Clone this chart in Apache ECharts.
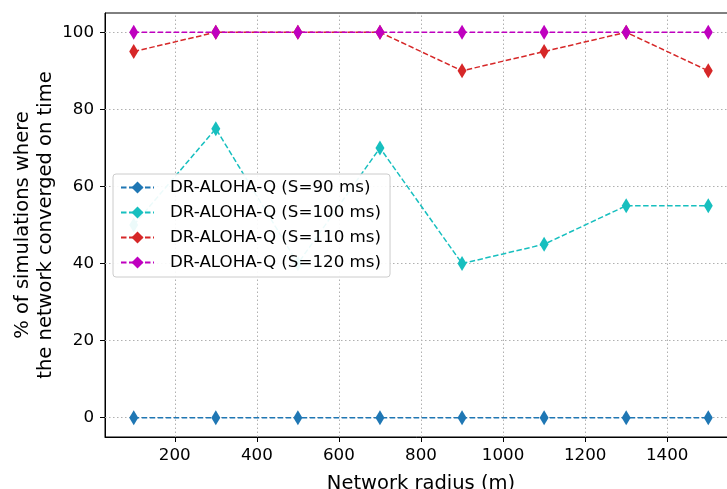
<!DOCTYPE html>
<html>
<head>
<meta charset="utf-8">
<script src="https://cdn.jsdelivr.net/npm/echarts@6/dist/echarts.min.js"></script>
<style>
  html, body { margin: 0; padding: 0; background: #fff; }
  #chart { width: 727px; height: 489px; }
</style>
</head>
<body>
<div id="chart"></div>
<script>
// Network radius (m) at which each configuration was simulated
const radii = [100, 300, 500, 700, 900, 1100, 1300, 1500];

// % of runs that converged on time, per slot length S
const s90 = [0, 0, 0, 0, 0, 0, 0, 0];
const s100 = [50, 75, 40, 70, 40, 45, 55, 55];
const s110 = [95, 100, 100, 100, 90, 95, 100, 90];
const s120 = [100, 100, 100, 100, 100, 100, 100, 100];

const xTicks = [200, 400, 600, 800, 1000, 1200, 1400];
const yTicks = [0, 20, 40, 60, 80, 100];

const seriesDefs = [
  { name: 'DR-ALOHA-Q (S=90 ms)', values: s90, color: '#1f77b4' },
  { name: 'DR-ALOHA-Q (S=100 ms)', values: s100, color: '#17bfbf' },
  { name: 'DR-ALOHA-Q (S=110 ms)', values: s110, color: '#d62728' },
  { name: 'DR-ALOHA-Q (S=120 ms)', values: s120, color: '#bf00bf' }
];

const FONT = 'DejaVu Sans';
const TICK_SIZE = 16.7;
const TITLE_SIZE = 19.5;

// dotted grid at the tick positions
const gridMarks = {
  silent: true, symbol: 'none', label: { show: false }, z: 1,
  lineStyle: { color: '#b0b0b0', type: [1.5, 2.5], width: 1 },
  emphasis: { disabled: true },
  data: xTicks.map(v => ({ xAxis: v })).concat(yTicks.map(v => ({ yAxis: v })))
};

const chart = echarts.init(document.getElementById('chart'), null, { renderer: 'canvas' });

chart.setOption({
  animation: false,
  backgroundColor: '#ffffff',
  textStyle: { fontFamily: FONT },
  grid: {
    left: 105, top: 13, width: 632, height: 424,
    outerBoundsMode: 'none',
    show: true, borderColor: '#000', borderWidth: 1, backgroundColor: '#ffffff'
  },
  legend: {
    orient: 'vertical',
    left: 113, top: 174,
    z: 20,
    backgroundColor: 'rgba(255,255,255,0.92)',
    borderColor: '#cccccc', borderWidth: 1, borderRadius: 3,
    padding: [5, 9, 6, 7],
    itemWidth: 33, itemHeight: 15, itemGap: 8,
    textStyle: { fontFamily: FONT, fontSize: TICK_SIZE, lineHeight: 17, color: '#000', padding: [0, 0, 0, 11] },
    data: seriesDefs.map(d => d.name)
  },
  xAxis: {
    type: 'value', min: 30, max: 1570,
    name: 'Network radius (m)', nameLocation: 'middle', nameGap: 37,
    nameMoveOverlap: false,
    nameTextStyle: { fontFamily: FONT, fontSize: TITLE_SIZE, color: '#000' },
    axisLine: { onZero: false, lineStyle: { color: '#000' } },
    axisTick: { show: true, length: 5, customValues: xTicks, lineStyle: { color: '#000' } },
    axisLabel: {
      customValues: xTicks, fontFamily: FONT, fontSize: TICK_SIZE, color: '#000', margin: 10,
      formatter: v => String(v)
    },
    splitLine: { show: false },
    splitArea: { show: false }
  },
  yAxis: {
    type: 'value', min: -5, max: 105,
    name: '% of simulations where\nthe network converged on time',
    nameLocation: 'middle', nameGap: 48,
    nameMoveOverlap: false,
    nameTextStyle: { fontFamily: FONT, fontSize: TITLE_SIZE, color: '#000', lineHeight: 23 },
    axisLine: { onZero: false, lineStyle: { color: '#000' } },
    axisTick: { show: true, length: 5, customValues: yTicks, lineStyle: { color: '#000' } },
    axisLabel: {
      customValues: yTicks, fontFamily: FONT, fontSize: TICK_SIZE, color: '#000', margin: 11,
      formatter: v => String(v)
    },
    splitLine: { show: false },
    splitArea: { show: false }
  },
  series: seriesDefs.map((d, i) => ({
    type: 'line',
    name: d.name,
    data: radii.map((r, k) => [r, d.values[k]]),
    color: d.color,
    z: 3 + i,
    symbol: 'diamond',
    symbolSize: [9, 15],
    showAllSymbol: true,
    lineStyle: { color: d.color, width: 1.5, type: [5.5, 2.5] },
    itemStyle: { color: d.color, borderWidth: 0 },
    markLine: i === 0 ? gridMarks : undefined
  }))
});
</script>
</body>
</html>
